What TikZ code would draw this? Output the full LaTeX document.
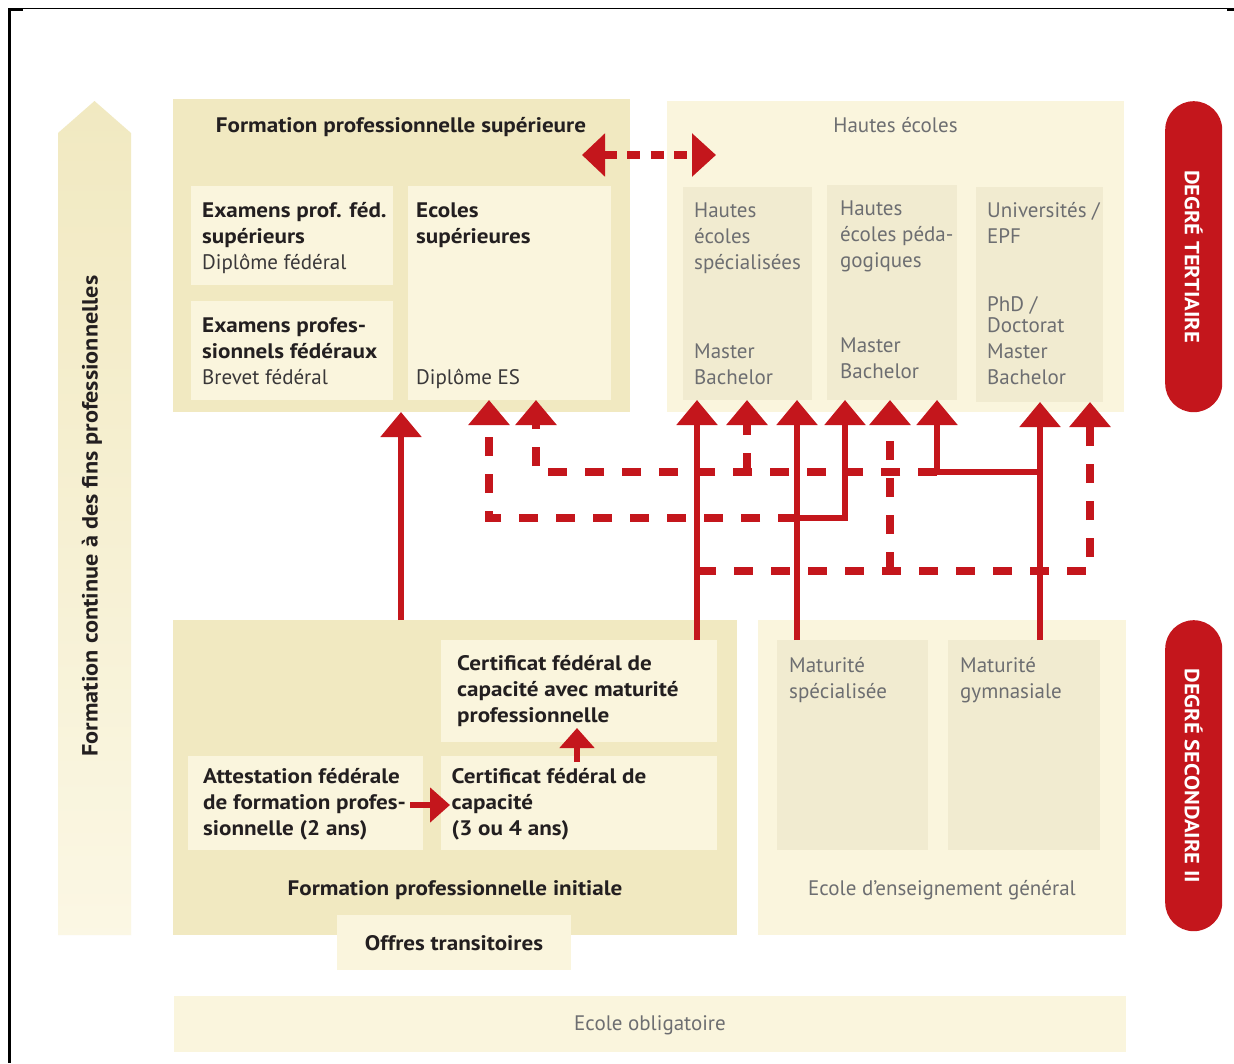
\documentclass[tikz,border=0pt]{standalone}
\usepackage{fontspec}
\setmainfont{PT Sans}[BoldFeatures={FakeStretch=1.1}]
\usetikzlibrary{arrows.meta,calc}
\definecolor{beigeD}{HTML}{F1E9C1}
\definecolor{beigeL}{HTML}{FAF5DD}
\definecolor{beigeM}{HTML}{F1EBD0}
\definecolor{redC}{HTML}{C4161C}
\definecolor{txtD}{HTML}{231F20}
\definecolor{txtR}{HTML}{3A3839}
\definecolor{txtG}{HTML}{6D6E71}
\newcommand{\tblock}[1]{\parbox[t]{300pt}{\raggedright #1}}
\tikzset{
  area/.style={fill=#1, draw=none, inner sep=0pt, outer sep=0pt, anchor=north west},
  fnt/.style={font=\fontsize{21}{26}\selectfont},
  txt/.style={fnt, anchor=base west, inner sep=0pt, text=txtD},
  gtxt/.style={fnt, anchor=base west, inner sep=0pt, text=txtG},
  ctitle/.style={fnt, anchor=base, inner sep=0pt, text=txtD},
  gtitle/.style={fnt, anchor=base, inner sep=0pt, text=txtG},
  pill/.style={fill=redC, draw=none, rounded corners=28.5pt, inner sep=0pt, anchor=north west, minimum width=57pt, minimum height=311pt},
  pilltxt/.style={rotate=-90, text=white, font=\fontsize{20.5}{24}\selectfont\bfseries, inner sep=0pt},
  sarr/.style={draw=redC, line width=5.5pt, -{Triangle[width=40pt,length=25pt]}},
  darr/.style={draw=redC, line width=8pt, dash pattern=on 19pt off 18pt, -{Triangle[width=40pt,length=25pt]}},
  sarrs/.style={draw=redC, line width=5.5pt, -{Triangle[width=34pt,length=20pt]}},
}
\begin{document}
\begin{tikzpicture}[x=1pt,y=-1pt]
\useasboundingbox (0,0) rectangle (1234,1063);
\fill[white] (0,0) rectangle (1234,1063);
% frame
\draw[line width=1.5pt] (8,8.5) -- (1234,8.5);
\draw[line width=3pt] (9,8) -- (9,1063);
\draw[line width=3pt] (8,9.5) -- (23,9.5);
\draw[line width=3pt] (1227,9.5) -- (1234,9.5);

% left arrow
\shade[top color=beigeD, bottom color=beigeL!80!white] (58,133) -- (94.5,101) -- (131,133) -- (131,935) -- (58,935) -- cycle;
\node[font=\fontsize{22}{26}\selectfont\bfseries, rotate=90, text=txtD, inner sep=0pt] (fc) at (92,516) {Formation continue à des fins professionnelles};

% ---------- tertiary ----------
\node[area=beigeD, minimum width=457pt, minimum height=313pt] (fps) at (173,99) {};
\node[ctitle] (fpst) at (401,132) {\bfseries Formation professionnelle supérieure};
\node[area=beigeL, minimum width=202pt, minimum height=99pt] (eps) at (191,186) {};
\node[txt] (epst) at (202,217.7) {\tblock{\textbf{Examens prof. féd.}\\\textbf{supérieurs}\\\textcolor{txtR}{Diplôme fédéral}}};
\node[area=beigeL, minimum width=202pt, minimum height=99pt] (epf) at (191,301) {};
\node[txt] (epft) at (202,332) {\tblock{\textbf{Examens profes-}\\\textbf{sionnels fédéraux}\\\textcolor{txtR}{Brevet fédéral}}};
\node[area=beigeL, minimum width=203pt, minimum height=214pt] (es) at (408,186) {};
\node[txt] (est) at (416,217.7) {\tblock{\textbf{Ecoles}\\\textbf{supérieures}}};
\node[txt, text=txtR] (esd) at (416,384) {Diplôme ES};

\node[area=beigeL, minimum width=457pt, minimum height=311pt] (he) at (667,101) {};
\node[gtitle] (het) at (895.5,132.7) {Hautes écoles};
\node[area=beigeM, minimum width=129pt, minimum height=213pt] (hes) at (683,187) {};
\node[gtxt] (hest) at (694,217.7) {\tblock{Hautes\\écoles\\spécialisées}};
\node[gtxt] (hesd) at (694,358) {\tblock{Master\\Bachelor}};
\node[area=beigeM, minimum width=130pt, minimum height=215pt] (hep) at (827,185) {};
\node[gtxt] (hept) at (840,215.7) {\tblock{Hautes\\écoles péda-\\gogiques}};
\node[gtxt] (hepd) at (840,352) {\tblock{Master\\Bachelor}};
\node[area=beigeM, minimum width=127pt, minimum height=215pt] (uni) at (976,187) {};
\node[gtxt] (unit) at (987,217.7) {\tblock{Universités /\\EPF}};
\node[gtxt] (unip) at (987,311) {PhD /};
\node[gtxt] (unid) at (987,332) {\tblock{Doctorat\\Master\\Bachelor}};

% ---------- secondary ----------
\node[area=beigeD, minimum width=564pt, minimum height=315pt] (fpi) at (173,620) {};
\node[area=beigeL, minimum width=276pt, minimum height=102pt] (cfcm) at (441,640) {};
\node[txt] (cfcmt) at (457,670) {\tblock{\bfseries Certificat fédéral de\\capacité avec maturité\\professionnelle}};
\node[area=beigeL, minimum width=235pt, minimum height=94pt] (afp) at (188,756) {};
\node[txt] (afpt) at (203,783) {\tblock{\bfseries Attestation fédérale\\de formation profes-\\sionnelle (2 ans)}};
\node[area=beigeL, minimum width=276pt, minimum height=94pt] (cfc) at (441,756) {};
\node[txt] (cfct) at (451.5,783) {\tblock{\bfseries Certificat fédéral de\\capacité\\(3 ou 4 ans)}};
\node[ctitle] (fpit) at (455,895) {\bfseries Formation professionnelle initiale};
\node[area=beigeL, minimum width=234pt, minimum height=55pt] (ot) at (337,915) {};
\node[ctitle] (ott) at (454,950) {\bfseries Offres transitoires};

\node[area=beigeL, minimum width=368pt, minimum height=315pt] (eeg) at (758,620) {};
\node[area=beigeM, minimum width=151pt, minimum height=210pt] (matspec) at (777,640) {};
\node[gtxt] (matspect) at (789,672) {\tblock{Maturité\\spécialisée}};
\node[area=beigeM, minimum width=152pt, minimum height=210pt] (matgym) at (948,640) {};
\node[gtxt] (matgymt) at (960,672) {\tblock{Maturité\\gymnasiale}};
\node[gtitle] (eegt) at (942,895) {Ecole d’enseignement général};

\node[area=beigeL, minimum width=952pt, minimum height=56pt] (eo) at (174,996) {};
\node[gtitle] (eot) at (650,1030) {Ecole obligatoire};

% pills
\node[pill] (dt) at (1165,101) {};
\node[pilltxt] (dtt) at (dt.center) {DEGRÉ TERTIAIRE};
\node[pill] (ds) at (1165,620) {};
\node[pilltxt] (dst) at (ds.center) {DEGRÉ SECONDAIRE II};

% ---------- connectors ----------
\coordinate (xA) at (401,0);
\coordinate (xB) at (489,0);
\coordinate (xC) at (536,0);
\coordinate (xD) at (697,0);
\coordinate (xE) at (747,0);
\coordinate (xF) at (797,0);
\coordinate (xG) at (845,0);
\coordinate (xH) at (890,0);
\coordinate (xI) at (937,0);
\coordinate (xJ) at (1040,0);
\coordinate (xK) at (1090,0);
\coordinate (j1) at (797,518);
\coordinate (j2) at (1040,472);
\coordinate (j3) at (697,571);
\coordinate (j4) at (937,472);
\coordinate (j5) at (747,472);
\coordinate (j6) at (890,571);
\coordinate (tl) at (582,155);
\coordinate (tr) at (716,155);
\coordinate (s1) at (410,805);
\coordinate (s2) at (450,805);
\coordinate (s3) at (577,762);
\coordinate (s4) at (577,728);

\draw[darr] (j1) -| (es.south -| xB);
\draw[darr] (j4) -| (es.south -| xC);
\draw[darr] (j5) -- (hes.south -| xE);
\draw[darr] (j3) -| (uni.south -| xK);
\draw[darr] (j6) -- (hep.south -| xH);

\draw[sarr] (fpi.north -| xA) -- (fps.south -| xA);
\draw[sarr] (cfcm.north -| xD) -- (hes.south -| xD);
\draw[sarr] (matspec.north -| xF) -- (hes.south -| xF);
\draw[sarr] (j1) -| (hep.south -| xG);
\draw[sarr] (matgym.north -| xJ) -- (uni.south -| xJ);
\draw[sarr] (j2) -| (hep.south -| xI);

\draw[draw=redC, line width=8pt, dash pattern=on 13pt off 10.5pt, {Triangle[width=42pt,length=23pt]}-{Triangle[width=42pt,length=24pt]}] (tl) -- (tr);

\draw[sarrs] (s1) -- (s2);
\draw[sarrs] (s3) -- (s4);
\end{tikzpicture}
\end{document}
